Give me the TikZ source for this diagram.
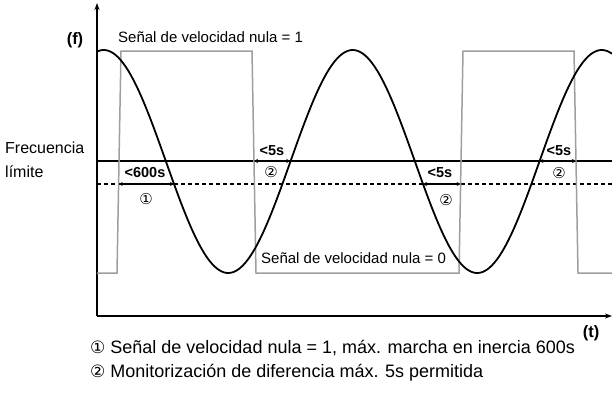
\documentclass[tikz,border=0pt]{standalone}
\usepackage{fontspec}
\setmainfont{Liberation Sans}
\newfontfamily\symfont{DejaVu Sans}
\usetikzlibrary{arrows.meta}
\begin{document}
\begin{tikzpicture}[x=1pt,y=-1pt,
 axis/.style={line width=1.5pt,-{Stealth[length=7pt,width=5pt]}},
 sig/.style={draw=black!38, line width=1.5pt, line join=miter},
 wave/.style={line width=1.8pt},
 lim/.style={line width=1.3pt},
 dimarrow/.style={line width=1.6pt,{Stealth[length=4pt,width=4pt]}-{Stealth[length=4pt,width=4pt]}},
 lbl/.style={font=\fontsize{15}{17}\selectfont, inner sep=0pt},
 leg/.style={font=\fontsize{18}{21}\selectfont, inner sep=0pt, anchor=west},
 blbl/.style={font=\bfseries\fontsize{14.5}{16}\selectfont, inner sep=0pt},
 num/.style={font=\symfont\fontsize{15}{16}\selectfont, inner sep=0pt},
]
\useasboundingbox (0,0) rectangle (612,405);
% axes
\coordinate (O) at (97,316);
\coordinate (Ytop) at (97,3);
\coordinate (Xend) at (612,316);
\draw[axis] (O) -- (Ytop);
\draw[axis] (O) -- (Xend);
\node[blbl, font=\bfseries\fontsize{16.5}{18}\selectfont] (f) at (75,40) {(f)};
\node[blbl, font=\bfseries\fontsize{16.5}{18}\selectfont] (t) at (591,333) {(t)};
% limit lines
\coordinate (L1) at (97,161);
\coordinate (L2) at (612,161);
\coordinate (D1) at (97,184);
\coordinate (D2) at (612,184);
\draw[lim] (L1) -- (L2);
\draw[lim, dash pattern=on 4pt off 3pt] (D1) -- (D2);
\node[lbl, anchor=west, font=\fontsize{16}{18}\selectfont] (fl1) at (5,148) {Frecuencia};
\node[lbl, anchor=west, font=\fontsize{16}{18}\selectfont] (fl2) at (5,172) {límite};
% zero speed signal
\draw[sig] (97,273) -- (117,273) -- (121,51) -- (252,51) -- (256,273) -- (459,273) -- (463,51) -- (574,51) -- (578,273) -- (612,273);
\node[lbl, anchor=west] (s1) at (118,37) {Señal de velocidad nula = 1};
\node[lbl, anchor=west] (s0) at (261,258) {Señal de velocidad nula = 0};
% frequency curve
\draw[wave] plot[domain=97:612, samples=220, smooth] (\x, {161.5-111.5*cos(1.445783*(\x-103.7))});
% dimension arrows
\coordinate (a1) at (118.6,184);
\coordinate (a2) at (174,184);
\coordinate (b1) at (254,161);
\coordinate (b2) at (290.3,161);
\coordinate (c1) at (423,184);
\coordinate (c2) at (460.6,184);
\coordinate (d1) at (539.3,161);
\coordinate (d2) at (576,161);
\draw[dimarrow] (a1) -- (a2);
\draw[dimarrow] (b1) -- (b2);
\draw[dimarrow] (c1) -- (c2);
\draw[dimarrow] (d1) -- (d2);
\node[blbl] (ta) at (145,173) {<600s};
\node[blbl] (tb) at (272,151) {<5s};
\node[blbl] (tc) at (440,173) {<5s};
\node[blbl] (td) at (559,151) {<5s};
\node[num] (na) at (146,199) {①};
\node[num] (nb) at (271,172) {②};
\node[num] (nc) at (446,200) {②};
\node[num] (nd) at (559,173) {②};
% legend
\node[leg] (leg1) at (90,348) {{\symfont\fontsize{17}{18}\selectfont ①} Señal de velocidad nula = 1, máx. marcha en inercia 600s};
\node[leg] (leg2) at (90,373) {{\symfont\fontsize{17}{18}\selectfont ②} Monitorización de diferencia máx. 5s permitida};
\end{tikzpicture}
\end{document}
